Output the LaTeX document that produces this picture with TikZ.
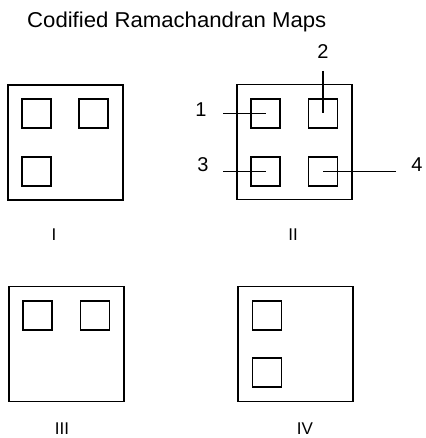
\documentclass[tikz,border=0pt]{standalone}
\usepackage{fontspec}
\setmainfont{Liberation Sans}
\begin{document}
\begin{tikzpicture}[x=1pt,y=1pt,
  mapbox/.style={draw,line width=1.4pt,minimum width=115pt,minimum height=115pt,inner sep=0pt,outer sep=0pt},
  region/.style={draw,line width=1.4pt,minimum width=29pt,minimum height=29pt,inner sep=0pt,outer sep=0pt},
  numlabel/.style={font=\fontsize{20}{24}\selectfont,inner sep=0pt},
  maplabel/.style={font=\fontsize{17}{20}\selectfont,inner sep=0pt},
  leader/.style={line width=1.2pt}]
\fill[white] (0,0) rectangle (425,438);
\useasboundingbox (0,0) rectangle (425,438);

% title
\node[font=\fontsize{21.5}{25}\selectfont,xscale=1.03,anchor=base west,inner sep=0pt] (title) at (27,410) {Codified Ramachandran Maps};

% map I
\node[mapbox] (mapI) at (65.5,295.5) {};
\node[region] (I1) at (36.5,324.5) {};
\node[region] (I2) at (93.5,324.5) {};
\node[region] (I3) at (36.5,266.5) {};
\node[maplabel] (labI) at (54,203) {I};

% map II
\node[mapbox] (mapII) at (294.5,296) {};
\node[region] (II1) at (265.5,324.5) {};
\node[region] (II2) at (323,324.5) {};
\node[region] (II3) at (265.5,266.5) {};
\node[region] (II4) at (323,266.5) {};
\node[maplabel] (labII) at (293,203) {II};

% map III
\node[mapbox] (mapIII) at (66.5,94) {};
\node[region] (III1) at (37.5,122.5) {};
\node[region] (III2) at (95,122.5) {};
\node[maplabel] (labIII) at (62,9) {III};

% map IV
\node[mapbox] (mapIV) at (295.5,94) {};
\node[region] (IV1) at (267,122.5) {};
\node[region] (IV2) at (267,65.5) {};
\node[maplabel] (labIV) at (305,9) {IV};

% numbered regions of map II
\node[numlabel] (n1) at (201,328) {1};
\node[numlabel] (n2) at (323,386) {2};
\node[numlabel] (n3) at (203,273) {3};
\node[numlabel] (n4) at (417,273) {4};
\coordinate (c1) at (223,324.5);
\coordinate (c2) at (323,367);
\coordinate (c3) at (223,266.5);
\coordinate (c4) at (396,266.5);
\draw[leader] (c1) -- (II1.center);
\draw[leader] (c2) -- (II2.center);
\draw[leader] (c3) -- (II3.center);
\draw[leader] (c4) -- (II4.center);
\end{tikzpicture}
\end{document}
